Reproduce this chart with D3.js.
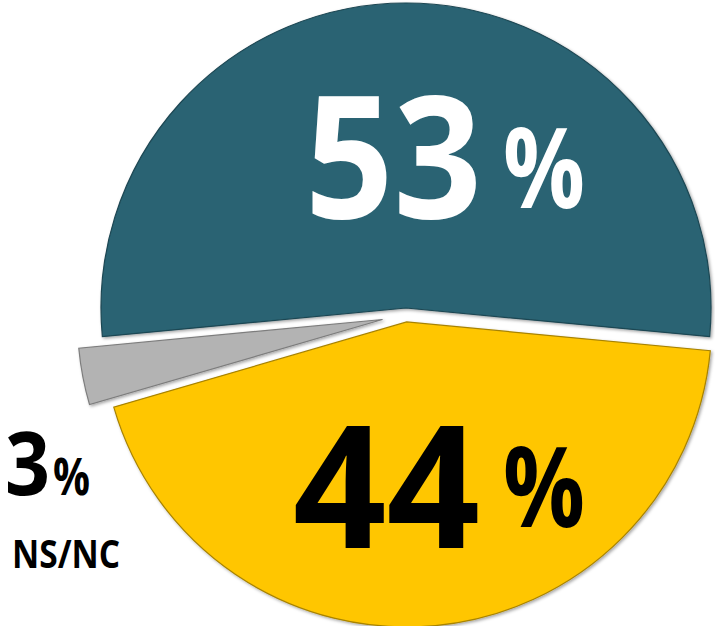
<!DOCTYPE html>
<html>
<head>
<meta charset="utf-8">
<script src="https://cdn.jsdelivr.net/npm/d3@7"></script>
<style>
  html, body { margin: 0; padding: 0; background: #fff; }
  svg { display: block; }
</style>
</head>
<body>
<div id="chart"></div>
<script>
var width = 715, height = 626;

// data
var labels = ["Sí", "No", "NS/NC"];
var values = [53, 44, 3];
var colors = ["#296373", "#ffc600", "#b3b3b3"];
var edgeColors = ["#1d4753", "#a88300", "#7d7d7d"];

var cx = 406, cy = 315, radius = 305;
var explode = [7, 7, 24];

var svg = d3.select("#chart").append("svg")
    .attr("width", width)
    .attr("height", height);

var defs = svg.append("defs");
var shadow = defs.append("filter").attr("id", "shadow")
    .attr("x", "-10%").attr("y", "-10%").attr("width", "120%").attr("height", "120%");
shadow.append("feDropShadow")
    .attr("dx", 1.5).attr("dy", 1.5)
    .attr("stdDeviation", 1.5)
    .attr("flood-color", "#000")
    .attr("flood-opacity", 0.35);

var total = d3.sum(values);
var startA = -Math.PI * values[0] / total;

var pie = d3.pie()
    .sort(null)
    .startAngle(startA)
    .endAngle(startA + 2 * Math.PI);

var arc = d3.arc().innerRadius(0).outerRadius(radius);

svg.append("g")
    .attr("transform", "translate(" + cx + "," + cy + ")")
    .selectAll("path")
    .data(pie(values))
    .enter()
    .append("path")
    .attr("transform", function(d, i) {
        var a = (d.startAngle + d.endAngle) / 2;
        return "translate(" + (Math.sin(a) * explode[i]) + "," + (-Math.cos(a) * explode[i]) + ")";
    })
    .attr("d", arc)
    .attr("fill", function(d, i) { return colors[i]; })
    .attr("stroke", function(d, i) { return edgeColors[i]; })
    .attr("stroke-width", 1.2)
    .attr("filter", "url(#shadow)");

// labels (positions relative to pie center)
var font = "'Open Sans', Lato, sans-serif";
var labelLayout = [
    { num: { x: -101, y: -97, size: 170, len: 177 }, pct: { x: 97, y: -107, size: 112, len: 82 }, color: "#fff" },
    { num: { x: -113, y: 233, size: 170, len: 187 }, pct: { x: 97, y: 212, size: 112, len: 82 }, color: "#000" },
    { num: { x: -401, y: 180, size: 88, len: 45 }, pct: { x: -353, y: 180, size: 52, len: 37 }, color: "#000" }
];

var lg = svg.append("g").attr("transform", "translate(" + cx + "," + cy + ")");

values.forEach(function(v, i) {
    var L = labelLayout[i];
    lg.append("text")
        .attr("x", L.num.x).attr("y", L.num.y)
        .attr("font-family", font).attr("font-weight", 700)
        .attr("font-size", L.num.size)
        .attr("textLength", L.num.len)
        .attr("lengthAdjust", "spacingAndGlyphs")
        .attr("fill", L.color)
        .text(v);
    lg.append("text")
        .attr("x", L.pct.x).attr("y", L.pct.y)
        .attr("font-family", font).attr("font-weight", 700)
        .attr("font-size", L.pct.size)
        .attr("textLength", L.pct.len)
        .attr("lengthAdjust", "spacingAndGlyphs")
        .attr("fill", L.color)
        .text("%");
});

// category name for the small slice
lg.append("text")
    .attr("x", -394).attr("y", 253)
    .attr("font-family", font).attr("font-weight", 700)
    .attr("font-size", 39)
    .attr("textLength", 108)
    .attr("lengthAdjust", "spacingAndGlyphs")
    .attr("fill", "#000")
    .text(labels[2]);
</script>
</body>
</html>
